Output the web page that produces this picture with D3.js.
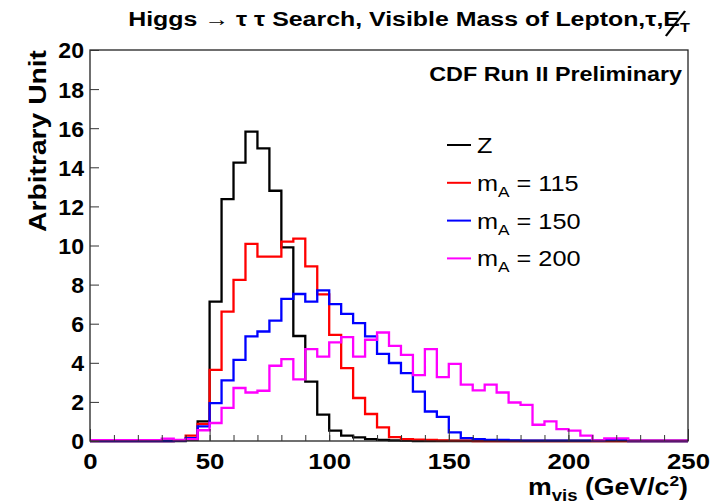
<!DOCTYPE html>
<html>
<head>
<meta charset="utf-8">
<script src="https://cdn.jsdelivr.net/npm/d3@7/dist/d3.min.js"></script>
<style>
  body { margin: 0; background: #fff; }
  text { font-family: "Liberation Sans", Arial, sans-serif; }
</style>
</head>
<body>
<svg id="chart" width="717" height="504"></svg>
<script>
// bins of 5 GeV from 0 to 250
const binEdges = d3.range(0, 255, 5);
const xTicks = [0, 50, 100, 150, 200, 250];
const yTicks = [0, 2, 4, 6, 8, 10, 12, 14, 16, 18, 20];

const zValues = [0, 0, 0, 0, 0, 0, 0, 0, 0.07, 1.0,
  7.13, 12.37, 14.24, 15.82, 14.97, 12.8, 9.9, 5.37, 3.04, 1.35,
  0.53, 0.27, 0.19, 0.1, 0.06, 0.03, 0.02, 0, 0, 0,
  0, 0, 0, 0, 0, 0, 0, 0, 0, 0,
  0, 0, 0, 0, 0, 0, 0, 0, 0, 0];
const m115Values = [0, 0, 0, 0, 0, 0, 0, 0.04, 0.27, 0.88,
  3.64, 6.62, 8.24, 10.08, 9.43, 9.43, 10.2, 10.35, 8.93, 7.5,
  5.43, 3.73, 2.2, 1.38, 0.7, 0.2, 0.1, 0.07, 0.05, 0.03,
  0.02, 0.02, 0, 0, 0, 0, 0, 0, 0, 0,
  0, 0, 0, 0, 0, 0, 0, 0, 0, 0];
const m150Values = [0, 0, 0, 0, 0, 0, 0, 0.02, 0.15, 0.75,
  1.94, 3.1, 4.15, 5.35, 5.6, 6.16, 7.27, 7.52, 7.13, 7.7,
  7.0, 6.5, 6.03, 5.35, 4.46, 3.99, 3.47, 2.53, 1.51, 1.23,
  0.44, 0.15, 0.1, 0.06, 0.05, 0.03, 0.02, 0.02, 0.02, 0.02,
  0.02, 0.02, 0.02, 0.06, 0.06, 0, 0, 0, 0, 0];
const m200Values = [0.04, 0.04, 0.04, 0.04, 0.04, 0.04, 0.12, 0.05, 0.1, 0.55,
  0.92, 1.69, 2.71, 2.48, 2.57, 3.85, 4.19, 3.15, 4.7, 4.32,
  5.04, 5.31, 4.32, 5.18, 5.55, 4.87, 4.41, 3.37, 4.7, 3.27,
  3.95, 2.88, 2.59, 2.88, 2.48, 1.97, 1.85, 0.83, 1.0, 0.61,
  0.53, 0.27, 0.03, 0.13, 0.13, 0.02, 0.02, 0.02, 0.02, 0.02];

const seriesNames = ['Z', '115', '150', '200'];
const seriesColors = ['#000000', '#ff0000', '#0000ff', '#ff00ff'];
const seriesValues = [zValues, m115Values, m150Values, m200Values];

const svg = d3.select('#chart'),
  margin = { top: 50, right: 29, bottom: 63, left: 90 },
  width = +svg.attr('width') - margin.left - margin.right,
  height = +svg.attr('height') - margin.top - margin.bottom,
  g = svg.append('g').attr('transform', 'translate(' + margin.left + ',' + margin.top + ')');

const x = d3.scaleLinear().domain([0, 250]).range([0, width]);
const y = d3.scaleLinear().domain([0, 20]).range([height, 0]);

// the original text is wider than Liberation Sans, so stretch it to a target width
function stretch(sel, px, py, target, rotate) {
  const w = sel.node().getBBox().width;
  const sx = target / w;
  sel.attr('transform', 'translate(' + px + ',' + py + ')' + (rotate ? ' rotate(-90)' : '') + ' scale(' + sx + ',1)');
}

// histograms as step lines
const line = d3.line()
  .x(d => x(d[0]))
  .y(d => y(d[1]))
  .curve(d3.curveStepAfter);

seriesValues.forEach((vals, k) => {
  const pts = vals.map((v, i) => [binEdges[i], v]);
  pts.push([binEdges[vals.length], vals[vals.length - 1]]);
  g.append('path')
    .datum(pts)
    .attr('fill', 'none')
    .attr('stroke', seriesColors[k])
    .attr('stroke-width', 2.3)
    .attr('d', line);
});

// frame
g.append('rect')
  .attr('width', width)
  .attr('height', height)
  .attr('fill', 'none')
  .attr('stroke', '#222')
  .attr('stroke-width', 1.3);

// x axis: minor ticks every 10, major every 50
g.append('g')
  .attr('transform', 'translate(0,' + height + ')')
  .call(d3.axisBottom(x).tickValues(d3.range(0, 251, 10)).tickSize(-6).tickFormat(''))
  .call(a => a.select('.domain').remove());
const xAxis = g.append('g')
  .attr('transform', 'translate(0,' + height + ')')
  .call(d3.axisBottom(x).tickValues(xTicks).tickSize(-12))
  .call(a => a.select('.domain').remove());
xAxis.selectAll('text')
  .attr('y', null).attr('dy', null)
  .style('font-size', '23px').style('font-weight', 'bold').attr('fill', '#000')
  .attr('transform', 'translate(0,28) scale(1.12,1)');

// y axis
const yAxis = g.append('g')
  .call(d3.axisLeft(y).tickValues(yTicks).tickSize(-9))
  .call(a => a.select('.domain').remove());
yAxis.selectAll('text')
  .attr('x', -6).attr('dy', '0.36em')
  .style('font-size', '22px').style('font-weight', 'bold').attr('fill', '#000')
  .attr('transform', 'translate(-6,0) scale(1.05,1) translate(6,0)');

g.selectAll('.tick line').attr('stroke', '#333');

// title
const titleG = svg.append('g');
const title = titleG.append('text')
  .attr('text-anchor', 'middle')
  .style('font-size', '20px')
  .style('font-weight', 'bold');
title.append('tspan').text('Higgs \u2192 \u03c4 \u03c4 Search, Visible Mass of Lepton,\u03c4,E');
title.append('tspan').attr('dy', 6).style('font-size', '13px').text('T');
const tnode = title.node();
const eBox = tnode.getExtentOfChar(tnode.textContent.length - 2);
titleG.append('line')
  .attr('x1', eBox.x + 2)
  .attr('y1', eBox.y + eBox.height + 6)
  .attr('x2', eBox.x + eBox.width + 4)
  .attr('y2', eBox.y + 3)
  .attr('stroke', '#000')
  .attr('stroke-width', 1.8);
stretch(titleG, 409, 26, 562);

// CDF label
const cdf = svg.append('text')
  .attr('text-anchor', 'end')
  .style('font-size', '20px')
  .style('font-weight', 'bold')
  .text('CDF Run II Preliminary');
stretch(cdf, 682, 81, 254);

// axis titles
const yl = svg.append('text')
  .attr('text-anchor', 'end')
  .style('font-size', '24px')
  .style('font-weight', 'bold')
  .text('Arbitrary Unit');
stretch(yl, 46, 50, 182, true);

const xl = svg.append('text')
  .attr('text-anchor', 'end')
  .style('font-size', '23px')
  .style('font-weight', 'bold');
xl.append('tspan').text('m');
xl.append('tspan').attr('dy', 6).style('font-size', '16px').text('vis');
xl.append('tspan').attr('dy', -6).text(' (GeV/c');
xl.append('tspan').attr('dy', -9).style('font-size', '15px').text('2');
xl.append('tspan').attr('dy', 9).text(')');
stretch(xl, 688, 495, 160);

// legend
const legend = svg.append('g').attr('transform', 'translate(447,145)');
seriesNames.forEach((name, k) => {
  const row = legend.append('g').attr('transform', 'translate(0,' + (k * 37.8) + ')');
  row.append('line')
    .attr('x1', 0).attr('x2', 24)
    .attr('stroke', seriesColors[k])
    .attr('stroke-width', 2);
  const t = row.append('text')
    .style('font-size', '22px');
  if (name === 'Z') {
    t.text('Z');
  } else {
    t.append('tspan').text('m');
    t.append('tspan').attr('dy', 6).style('font-size', '15px').text('A');
    t.append('tspan').attr('dy', -6).text(' = ' + name);
  }
  t.attr('transform', 'translate(30,8) scale(1.15,1)');
});
</script>
</body>
</html>
